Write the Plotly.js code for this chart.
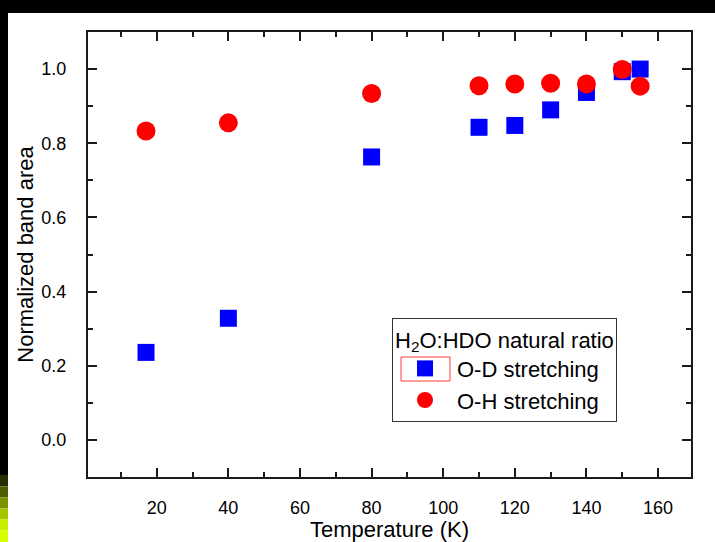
<!DOCTYPE html>
<html>
<head>
<meta charset="utf-8">
<script src="https://cdn.plot.ly/plotly-3.0.1.min.js"></script>
<style>
  html, body { margin: 0; padding: 0; background: #ffffff; }
  #chart { width: 715px; height: 542px; }
</style>
</head>
<body>
<div id="chart"></div>
<script>
// Temperatures (K) at which the spectra were recorded
const temperatureOD = [17, 40, 80, 110, 120, 130, 140, 150, 155];
const temperatureOH = [17, 40, 80, 110, 120, 130, 140, 150, 155];

// Normalized integrated band areas
const areaOD = [0.236, 0.328, 0.763, 0.843, 0.848, 0.890, 0.937, 0.993, 1.000];
const areaOH = [0.833, 0.855, 0.934, 0.955, 0.960, 0.962, 0.960, 0.999, 0.954];

// Labels
const seriesNames = ['O-D stretching', 'O-H stretching'];
const legendTitle = 'H<sub>2</sub>O:HDO natural ratio';
const xTitle = 'Temperature (K)';
const yTitle = 'Normalized band area';

// Figure geometry in pixels
const W = 715, H = 542;
const M = { l: 88, r: 24, t: 32, b: 65 };
const plotW = W - M.l - M.r, plotH = H - M.t - M.b;
const px = x => (x - M.l) / plotW;
const py = y => (H - M.b - y) / plotH;

const FONT = 'Liberation Sans, Arial, Helvetica, sans-serif';

// Window-frame strips around the figure
const frameShapes = [];
function rectPx(x0, y0, x1, y1, color) {
  frameShapes.push({
    type: 'rect', xref: 'paper', yref: 'paper', layer: 'above',
    x0: px(x0), x1: px(x1), y0: py(y1), y1: py(y0),
    fillcolor: color, line: { width: 0 }
  });
}
rectPx(0, 0, W, 13, '#000000');
rectPx(0, 13, 8, 475, '#000000');
const stripColors = ['#272f00', '#4e5e00', '#7b9300', '#a4c700', '#c7ee00', '#d6ff00'];
const stripEdges = [475, 486.5, 497.5, 508.5, 519.5, 530.5, 542];
stripColors.forEach((c, i) => rectPx(0, stripEdges[i], 8, stripEdges[i + 1], c));

// Highlight box around the first legend symbol
frameShapes.push({
  type: 'rect', xref: 'paper', yref: 'paper', layer: 'above',
  x0: px(401), x1: px(450), y0: py(381), y1: py(357),
  fillcolor: 'rgba(0,0,0,0)', line: { color: '#ff3b3b', width: 1 }
});

const traces = [
  {
    x: temperatureOD, y: areaOD, name: seriesNames[0],
    type: 'scatter', mode: 'markers',
    marker: { symbol: 'square', size: 17, color: '#0000ff', line: { width: 0 } }
  },
  {
    x: temperatureOH, y: areaOH, name: seriesNames[1],
    type: 'scatter', mode: 'markers',
    marker: { symbol: 'circle', size: 19, color: '#ff0000', line: { width: 0 } }
  }
];

const axisCommon = {
  showline: true, linecolor: '#1a1a1a', linewidth: 2,
  mirror: 'allticks', ticks: 'inside', ticklen: 9, tickwidth: 2, tickcolor: '#1a1a1a',
  showgrid: false, zeroline: false,
  tickfont: { family: FONT, size: 18, color: '#000000' }
};

const layout = {
  width: W, height: H,
  margin: M,
  paper_bgcolor: '#ffffff', plot_bgcolor: '#ffffff',
  font: { family: FONT, color: '#000000' },
  showlegend: true,
  xaxis: Object.assign({}, axisCommon, {
    range: [0.8, 169.2], tick0: 0, dtick: 20,
    ticklabelstandoff: 13,
    minor: { dtick: 10, ticks: 'inside', ticklen: 5, tickwidth: 2, tickcolor: '#1a1a1a' },
    title: { text: xTitle, font: { family: FONT, size: 22, color: '#000000' }, standoff: 6 }
  }),
  yaxis: Object.assign({}, axisCommon, {
    range: [-0.1, 1.1], tick0: 0, dtick: 0.2, tickformat: '.1f',
    ticklabelstandoff: 16,
    minor: { dtick: 0.1, ticks: 'inside', ticklen: 5, tickwidth: 2, tickcolor: '#1a1a1a' },
    title: { text: yTitle, font: { family: FONT, size: 22, color: '#000000' }, standoff: 2 }
  }),
  legend: {
    x: px(392), y: py(318), xanchor: 'left', yanchor: 'top',
    bgcolor: 'rgba(255,255,255,0)', bordercolor: '#333333', borderwidth: 1,
    font: { family: FONT, size: 22, color: '#000000' },
    title: { text: legendTitle, font: { family: FONT, size: 22, color: '#000000' } },
    itemwidth: 54, tracegroupgap: 0
  },
  shapes: frameShapes
};

Plotly.newPlot('chart', traces, layout, { displayModeBar: false, staticPlot: true });
</script>
</body>
</html>
